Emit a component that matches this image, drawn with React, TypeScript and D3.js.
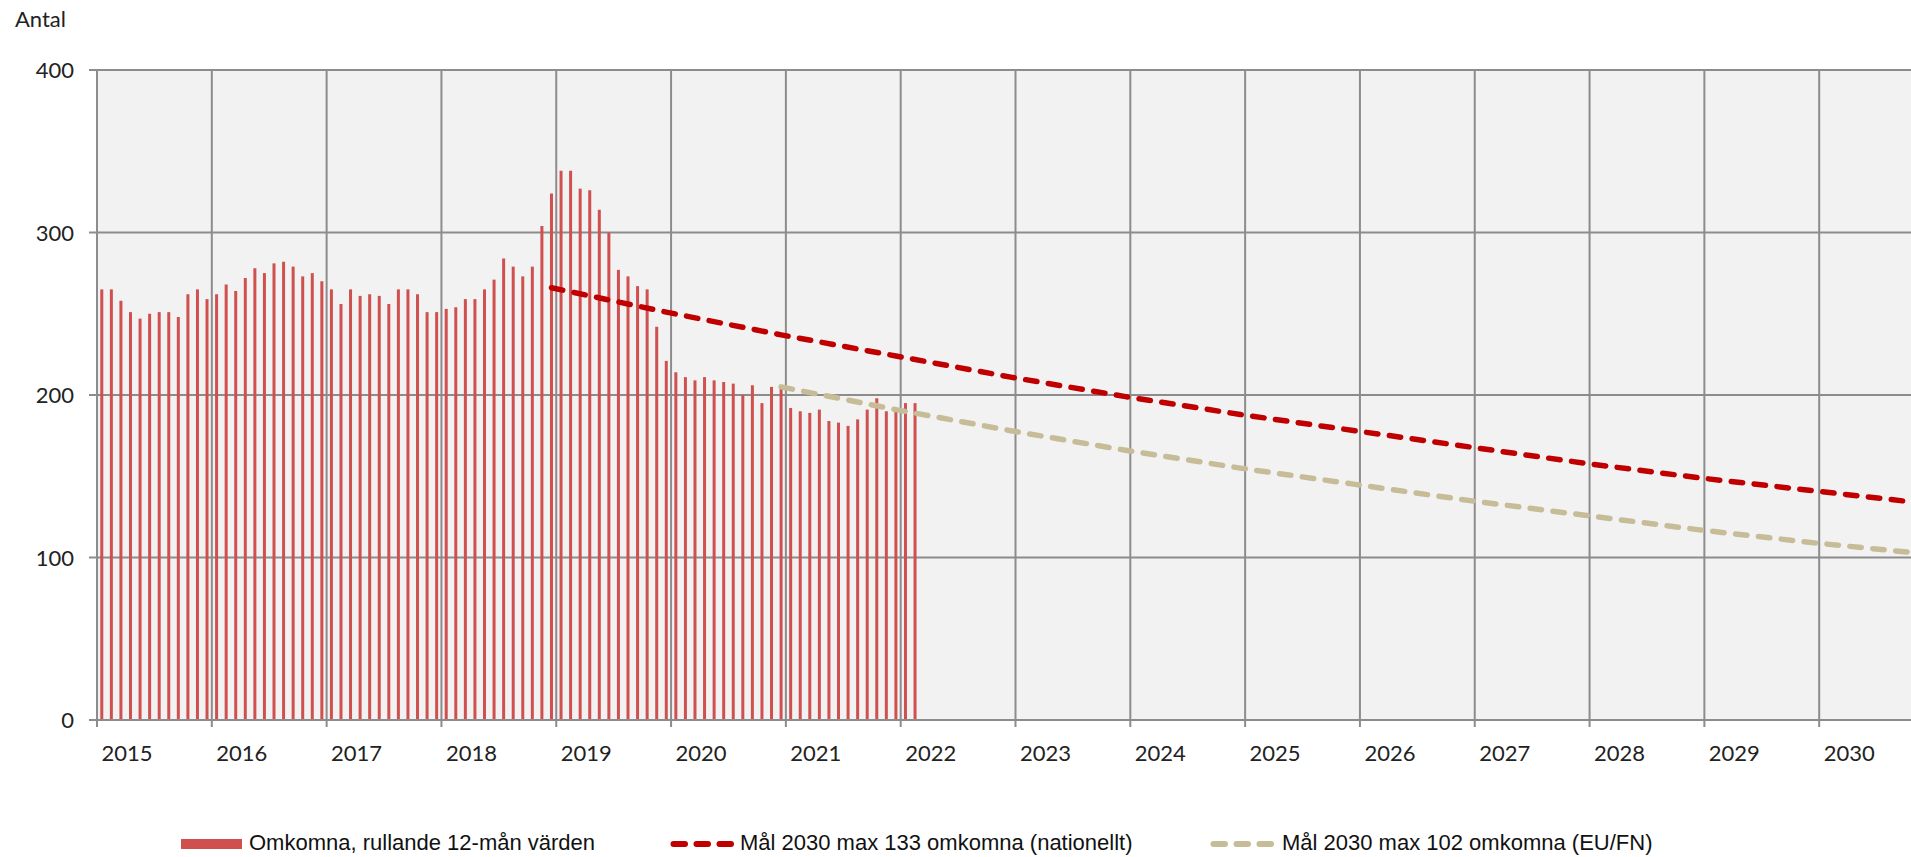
import React from "react";
import * as d3 from "d3";

// Monthly rolling 12-month values, Jan 2015 .. Feb 2022
const years = [2015, 2016, 2017, 2018, 2019, 2020, 2021, 2022, 2023, 2024, 2025, 2026, 2027, 2028, 2029, 2030];
const omkomna2015 = [265, 265, 258, 251, 247, 250, 251, 251, 248, 262, 265, 259];
const omkomna2016 = [262, 268, 264, 272, 278, 275, 281, 282, 279, 273, 275, 270];
const omkomna2017 = [265, 256, 265, 261, 262, 261, 256, 265, 265, 262, 251, 251];
const omkomna2018 = [253, 254, 259, 259, 265, 271, 284, 279, 273, 279, 304, 324];
const omkomna2019 = [338, 338, 327, 326, 314, 300, 277, 273, 267, 265, 242, 221];
const omkomna2020 = [214, 211, 209, 211, 209, 208, 207, 200, 206, 195, 205, 204];
const omkomna2021 = [192, 190, 189, 191, 184, 183, 181, 185, 191, 198, 190, 192];
const omkomna2022 = [195, 195];

// Target paths, value at December of each year
const nationalYears = [2018, 2019, 2020, 2021, 2022, 2023, 2024, 2025, 2026, 2027, 2028, 2029, 2030];
const nationalValues = [266, 251, 237, 224, 211, 199, 188, 178, 168, 158, 149, 141, 133];
const euYears = [2020, 2021, 2022, 2023, 2024, 2025, 2026, 2027, 2028, 2029, 2030];
const euValues = [205, 191, 178, 166, 155, 145, 135, 126, 117, 109, 102];

const yTicks = [0, 100, 200, 300, 400];

const legendLabels = [
  "Omkomna, rullande 12-mån värden",
  "Mål 2030 max 133 omkomna (nationellt)",
  "Mål 2030 max 102 omkomna (EU/FN)",
];

const W = 1911;
const H = 857;

export default function App() {
  const bars = [
    ...omkomna2015, ...omkomna2016, ...omkomna2017, ...omkomna2018,
    ...omkomna2019, ...omkomna2020, ...omkomna2021, ...omkomna2022,
  ];
  const x = d3.scaleLinear().domain([0, 192]).range([97, 1934]);
  const y = d3.scaleLinear().domain([0, 400]).range([720, 70]);
  const decIdx = (yr: number) => (yr - 2015) * 12 + 11.5;

  const line = d3
    .line<[number, number]>()
    .x((d) => x(decIdx(d[0])))
    .y((d) => y(d[1]));

  const natPath = line(nationalYears.map((yr, i) => [yr, nationalValues[i]]));
  const euPath = line(euYears.map((yr, i) => [yr, euValues[i]]));

  const gridColor = "#8c8c8c";
  const axisFont = "Lato, 'Open Sans', sans-serif";
  const legendFont = "'Liberation Sans', Arial, sans-serif";
  const barW = 3;

  return (
    <svg
      width={W}
      height={H}
      style={{ position: "absolute", left: 0, top: 0, background: "#fff" }}
    >
      <defs>
        <clipPath id="plotclip">
          <rect x={97} y={60} width={W - 97} height={680} />
        </clipPath>
      </defs>
      <text x={15} y={27} fontFamily={axisFont} fontSize={22} fill="#222">
        Antal
      </text>

      {/* plot background */}
      <rect x={97} y={y(400)} width={W - 97} height={y(0) - y(400)} fill="#f2f2f2" />

      {/* horizontal gridlines with ticks */}
      {yTicks.map((t) => (
        <g key={"h" + t}>
          <line x1={89} x2={W} y1={y(t)} y2={y(t)} stroke={gridColor} strokeWidth={2} />
          <text
            x={74}
            y={y(t) + 8}
            textAnchor="end"
            fontFamily={axisFont}
            fontSize={22}
            fill="#222"
          >
            {t}
          </text>
        </g>
      ))}

      {/* vertical gridlines with ticks and year labels */}
      {years.map((yr, i) => (
        <g key={"v" + yr}>
          <line
            x1={x(i * 12)}
            x2={x(i * 12)}
            y1={y(400)}
            y2={y(0) + 7}
            stroke={gridColor}
            strokeWidth={2}
          />
          <text
            x={x(i * 12) + 30}
            y={761}
            textAnchor="middle"
            fontFamily={axisFont}
            fontSize={22}
            fill="#222"
          >
            {yr}
          </text>
        </g>
      ))}

      {/* bars */}
      <g>
        {bars.map((v, i) => (
          <rect
            key={"b" + i}
            x={x(i + 0.5) - barW / 2}
            y={y(v)}
            width={barW}
            height={y(0) - y(v) - 1}
            fill="#d0504f"
          />
        ))}
      </g>

      {/* target lines */}
      <g clipPath="url(#plotclip)">
        <path
          d={natPath || ""}
          fill="none"
          stroke="#c00000"
          strokeWidth={5.5}
          strokeDasharray="11.5 11.5"
          strokeLinecap="round"
        />
        <path
          d={euPath || ""}
          fill="none"
          stroke="#c6bd98"
          strokeWidth={5.5}
          strokeDasharray="11.5 11.5"
          strokeLinecap="round"
        />
      </g>

      {/* legend */}
      <g>
        <rect x={181} y={839} width={61} height={10} fill="#d0504f" />
        <text x={249} y={850} fontFamily={legendFont} fontSize={22} fill="#111">
          {legendLabels[0]}
        </text>
        <line
          x1={673.5}
          x2={734}
          y1={844}
          y2={844}
          stroke="#c00000"
          strokeWidth={6}
          strokeDasharray="11.5 11.5"
          strokeLinecap="round"
        />
        <text x={740} y={850} fontFamily={legendFont} fontSize={22} fill="#111">
          {legendLabels[1]}
        </text>
        <line
          x1={1213.5}
          x2={1274}
          y1={844}
          y2={844}
          stroke="#c6bd98"
          strokeWidth={6}
          strokeDasharray="11.5 11.5"
          strokeLinecap="round"
        />
        <text x={1282} y={850} fontFamily={legendFont} fontSize={22} fill="#111">
          {legendLabels[2]}
        </text>
      </g>
    </svg>
  );
}
